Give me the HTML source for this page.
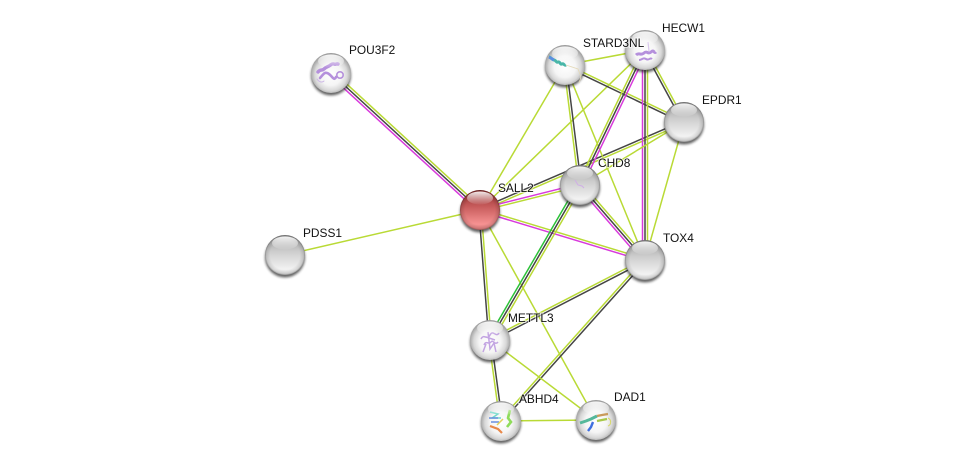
<!DOCTYPE html>
<html>
<head>
<meta charset="utf-8">
<style>
html,body{margin:0;padding:0;background:#fff}
svg{display:block}
text{font-family:"Liberation Sans",sans-serif;font-size:11.9px;fill:#111;paint-order:stroke;stroke:rgba(255,255,255,.6);stroke-width:2px}
line.y{stroke:#b9da35}
line.k{stroke:#454545}
line.m{stroke:#d83adc}
line.g{stroke:#2cc238}
line{stroke-width:1.5}
</style>
</head>
<body>
<svg width="976" height="466" viewBox="0 0 976 466" xmlns="http://www.w3.org/2000/svg">
<defs>
<linearGradient id="gr" x1="0" y1="0" x2="0" y2="1"><stop offset="0" stop-color="#9c9c9c"/><stop offset=".4" stop-color="#cccccc"/><stop offset=".85" stop-color="#f2f2f2"/><stop offset="1" stop-color="#e2e2e2"/></linearGradient>
<radialGradient id="wh" cx="50%" cy="54%" r="54%"><stop offset="0" stop-color="#ffffff"/><stop offset=".5" stop-color="#f5f5f5"/><stop offset=".75" stop-color="#d8d8d8"/><stop offset="1" stop-color="#959595"/></radialGradient>
<linearGradient id="rd" x1="0" y1="0" x2="0" y2="1"><stop offset="0" stop-color="#8e2c2c"/><stop offset=".4" stop-color="#c65a5a"/><stop offset=".85" stop-color="#f69292"/><stop offset="1" stop-color="#e48080"/></linearGradient>
<radialGradient id="rim" cx="50%" cy="50%" r="50%"><stop offset=".74" stop-color="#000" stop-opacity="0"/><stop offset=".93" stop-color="#000" stop-opacity=".12"/><stop offset="1" stop-color="#000" stop-opacity=".36"/></radialGradient>
<linearGradient id="hl" x1="0" y1="0" x2="0" y2="1"><stop offset="0" stop-color="#fff" stop-opacity=".9"/><stop offset="1" stop-color="#fff" stop-opacity=".05"/></linearGradient>
<filter id="sh" x="-30%" y="-30%" width="160%" height="160%"><feGaussianBlur stdDeviation="1.2"/></filter>
</defs>

<!-- edges -->
<g fill="none">
<line class="m" x1="329.25" y1="74.85" x2="478.25" y2="211.85"/>
<line class="k" x1="331" y1="73" x2="480" y2="210"/>
<line class="y" x1="332.75" y1="71.15" x2="481.75" y2="208.15"/>
<line class="y" x1="285" y1="255" x2="480" y2="210"/>
<line class="y" x1="480" y1="210" x2="565" y2="65"/>
<line class="y" x1="480" y1="210" x2="645" y2="50"/>
<line class="y" x1="480" y1="210" x2="596" y2="420"/>
<line class="k" x1="479.5" y1="208.9" x2="683.5" y2="120.9"/>
<line class="y" x1="480.5" y1="211.1" x2="684.5" y2="123.1"/>
<line class="m" x1="479.7" y1="208.8" x2="579.7" y2="183.8"/>
<line class="y" x1="480.3" y1="211.2" x2="580.3" y2="186.2"/>
<line class="y" x1="480.35" y1="208.85" x2="645.35" y2="258.85"/>
<line class="m" x1="479.65" y1="211.15" x2="644.65" y2="261.15"/>
<line class="k" x1="478.8" y1="210" x2="488.8" y2="340"/>
<line class="y" x1="481.2" y1="210" x2="491.2" y2="340"/>
<line class="y" x1="565" y1="65" x2="645" y2="50"/>
<line class="y" x1="565.5" y1="63.9" x2="684.5" y2="120.9"/>
<line class="k" x1="564.5" y1="66.1" x2="683.5" y2="123.1"/>
<line class="y" x1="563.8" y1="65.1" x2="578.8" y2="185.1"/>
<line class="k" x1="566.2" y1="64.9" x2="581.2" y2="184.9"/>
<line class="y" x1="565" y1="65" x2="645" y2="260"/>
<line class="y" x1="646.05" y1="49.4" x2="685.05" y2="121.4"/>
<line class="k" x1="643.95" y1="50.6" x2="682.95" y2="122.6"/>
<line class="y" x1="642.8" y1="48.95" x2="577.8" y2="183.95"/>
<line class="k" x1="645" y1="50" x2="580" y2="185"/>
<line class="m" x1="647.2" y1="51.05" x2="582.2" y2="186.05"/>
<line class="m" x1="642.5" y1="50" x2="642.5" y2="260"/>
<line class="k" x1="645" y1="50" x2="645" y2="260"/>
<line class="y" x1="647.5" y1="50" x2="647.5" y2="260"/>
<line class="y" x1="684" y1="122" x2="580" y2="185"/>
<line class="y" x1="684" y1="122" x2="645" y2="260"/>
<line class="m" x1="578.1" y1="186.65" x2="643.1" y2="261.65"/>
<line class="k" x1="580" y1="185" x2="645" y2="260"/>
<line class="y" x1="581.9" y1="183.35" x2="646.9" y2="258.35"/>
<line class="g" x1="577.85" y1="183.75" x2="487.85" y2="338.75"/>
<line class="k" x1="580" y1="185" x2="490" y2="340"/>
<line class="y" x1="582.15" y1="186.25" x2="492.15" y2="341.25"/>
<line class="y" x1="644.45" y1="258.95" x2="489.45" y2="338.95"/>
<line class="k" x1="645.55" y1="261.05" x2="490.55" y2="341.05"/>
<line class="y" x1="644.1" y1="259.2" x2="500.1" y2="420.2"/>
<line class="k" x1="645.9" y1="260.8" x2="501.9" y2="421.8"/>
<line class="y" x1="488.8" y1="340.15" x2="499.8" y2="421.15"/>
<line class="k" x1="491.2" y1="339.85" x2="502.2" y2="420.85"/>
<line class="y" x1="490" y1="340" x2="596" y2="420"/>
<line class="y" x1="501" y1="421" x2="596" y2="420"/>
</g>

<!-- nodes -->
<g>
<circle cx="331" cy="75.500" r="20" fill="#222" opacity=".7" filter="url(#sh)"/>
<circle cx="331" cy="73" r="20" fill="url(#wh)"/>
<g fill="none" stroke="#b590dc" stroke-width="3.400" stroke-linecap="round"><path d="M318 72c2-3 4-1 6-3s3-2 5-3 3-3 5-2 3-1 4 0"/><path d="M320 78c3-3 4-6 7-5s4 3 6 5 3-1 3-1" stroke-width="2.600"/><circle cx="340" cy="75" r="3.200" stroke-width="1.600"/><path d="M317 79c2 3 5 4 7 2" stroke="#cdb8e6" stroke-width="1"/></g>
<ellipse cx="331" cy="61" rx="13" ry="6.500" fill="url(#hl)"/>

<circle cx="480" cy="212.500" r="20" fill="#222" opacity=".7" filter="url(#sh)"/>
<circle cx="480" cy="210" r="20" fill="url(#rd)"/>
<circle cx="480" cy="210" r="20" fill="url(#rim)"/>
<ellipse cx="480" cy="198" rx="13" ry="6.500" fill="url(#hl)"/>

<circle cx="285" cy="257.500" r="20" fill="#222" opacity=".7" filter="url(#sh)"/>
<circle cx="285" cy="255" r="20" fill="url(#gr)"/>
<circle cx="285" cy="255" r="20" fill="url(#rim)"/>
<ellipse cx="285" cy="243" rx="13" ry="6.500" fill="url(#hl)"/>

<circle cx="565" cy="67.500" r="20" fill="#222" opacity=".7" filter="url(#sh)"/>
<circle cx="565" cy="65" r="20" fill="url(#wh)"/>
<path d="M549 57c2 0 3 3 5 3s2 3 4 2 2 3 4 2 2 2 4 1" fill="none" stroke="#49b6a8" stroke-width="3"/>
<path d="M549 57l5 3" fill="none" stroke="#5a8fe0" stroke-width="3"/>
<path d="M566 65l12 4 3 8-2 6" fill="none" stroke="#e3d9b8" stroke-width=".8"/>
<ellipse cx="565" cy="53" rx="13" ry="6.500" fill="url(#hl)"/>

<circle cx="645" cy="52.500" r="20" fill="#222" opacity=".7" filter="url(#sh)"/>
<circle cx="645" cy="50" r="20" fill="url(#wh)"/>
<g fill="none" stroke="#b590dc" stroke-width="3"><path d="M636 55c3-3 5 1 8-2s4 2 7-1 3 2 5 0"/><path d="M639 60c3 0 4-3 7-1s4-2 6 0" stroke-width="2"/><path d="M648 42l1 9" stroke="#d9c8ec" stroke-width="1.200"/></g>
<ellipse cx="645" cy="38" rx="13" ry="6.500" fill="url(#hl)"/>

<circle cx="684" cy="124.500" r="20" fill="#222" opacity=".7" filter="url(#sh)"/>
<circle cx="684" cy="122" r="20" fill="url(#gr)"/>
<circle cx="684" cy="122" r="20" fill="url(#rim)"/>
<ellipse cx="684" cy="110" rx="13" ry="6.500" fill="url(#hl)"/>

<circle cx="580" cy="187.500" r="20" fill="#222" opacity=".7" filter="url(#sh)"/>
<circle cx="580" cy="185" r="20" fill="url(#gr)"/>
<circle cx="580" cy="185" r="20" fill="url(#rim)"/>
<path d="M575 180l3 5 4 1 2 2" fill="none" stroke="#d0aee6" stroke-width="1"/>
<ellipse cx="580" cy="173" rx="13" ry="6.500" fill="url(#hl)"/>

<circle cx="645" cy="262.500" r="20" fill="#222" opacity=".7" filter="url(#sh)"/>
<circle cx="645" cy="260" r="20" fill="url(#gr)"/>
<circle cx="645" cy="260" r="20" fill="url(#rim)"/>
<ellipse cx="645" cy="248" rx="13" ry="6.500" fill="url(#hl)"/>

<circle cx="490" cy="342.500" r="20" fill="#222" opacity=".7" filter="url(#sh)"/>
<circle cx="490" cy="340" r="20" fill="url(#wh)"/>
<g fill="none" stroke="#c3a5e2" stroke-width="1.500"><path d="M481 339c3-6 6 2 9-4s6 3 9-2M484 345c2-5 5 0 7-3s4 4 7 0M488 332l2 17 4-6 2 9M483 352l3-8M486 337l9 3"/></g>
<ellipse cx="490" cy="328" rx="13" ry="6.500" fill="url(#hl)"/>

<circle cx="501" cy="423.500" r="20" fill="#222" opacity=".7" filter="url(#sh)"/>
<circle cx="501" cy="421" r="20" fill="url(#wh)"/>
<g fill="none" stroke-width="1.500"><path d="M490 412l8 2-6 4h9" stroke="#6fd8c8"/><path d="M489 418h9M491 422h8" stroke="#6a8fe0"/><path d="M510 410l-2 8 3 4-4 5" stroke="#8fdc5a" stroke-width="2.600"/><path d="M490 426l8 3 4 4" stroke="#e8894a" stroke-width="2.200"/><path d="M497 425l6-6" stroke="#e2d25a"/></g>
<ellipse cx="501" cy="409" rx="13" ry="6.500" fill="url(#hl)"/>

<circle cx="596" cy="422.500" r="20" fill="#222" opacity=".7" filter="url(#sh)"/>
<circle cx="596" cy="420" r="20" fill="url(#wh)"/>
<g fill="none"><path d="M580 423l6-2 5-2 6-3" stroke="#55b89a" stroke-width="3"/><path d="M597 416l5-1 6-1" stroke="#c99a5a" stroke-width="2.200"/><path d="M597 421l5-1 5-1" stroke="#a8c84a" stroke-width="2.200"/><path d="M593 422l-2 5-3 4" stroke="#3f6fe0" stroke-width="2.400"/><path d="M608 418c4 2 3 7 0 8" stroke="#d8d86a" stroke-width="1"/></g>
<ellipse cx="596" cy="408" rx="13" ry="6.500" fill="url(#hl)"/>
</g>

<!-- labels -->
<text x="349" y="54">POU3F2</text>
<text x="498" y="192">SALL2</text>
<text x="303" y="237">PDSS1</text>
<text x="583" y="47">STARD3NL</text>
<text x="662" y="32">HECW1</text>
<text x="702" y="104">EPDR1</text>
<text x="598" y="167">CHD8</text>
<text x="663" y="242">TOX4</text>
<text x="508" y="322">METTL3</text>
<text x="519" y="403">ABHD4</text>
<text x="614" y="401">DAD1</text>
</svg>
</body>
</html>
